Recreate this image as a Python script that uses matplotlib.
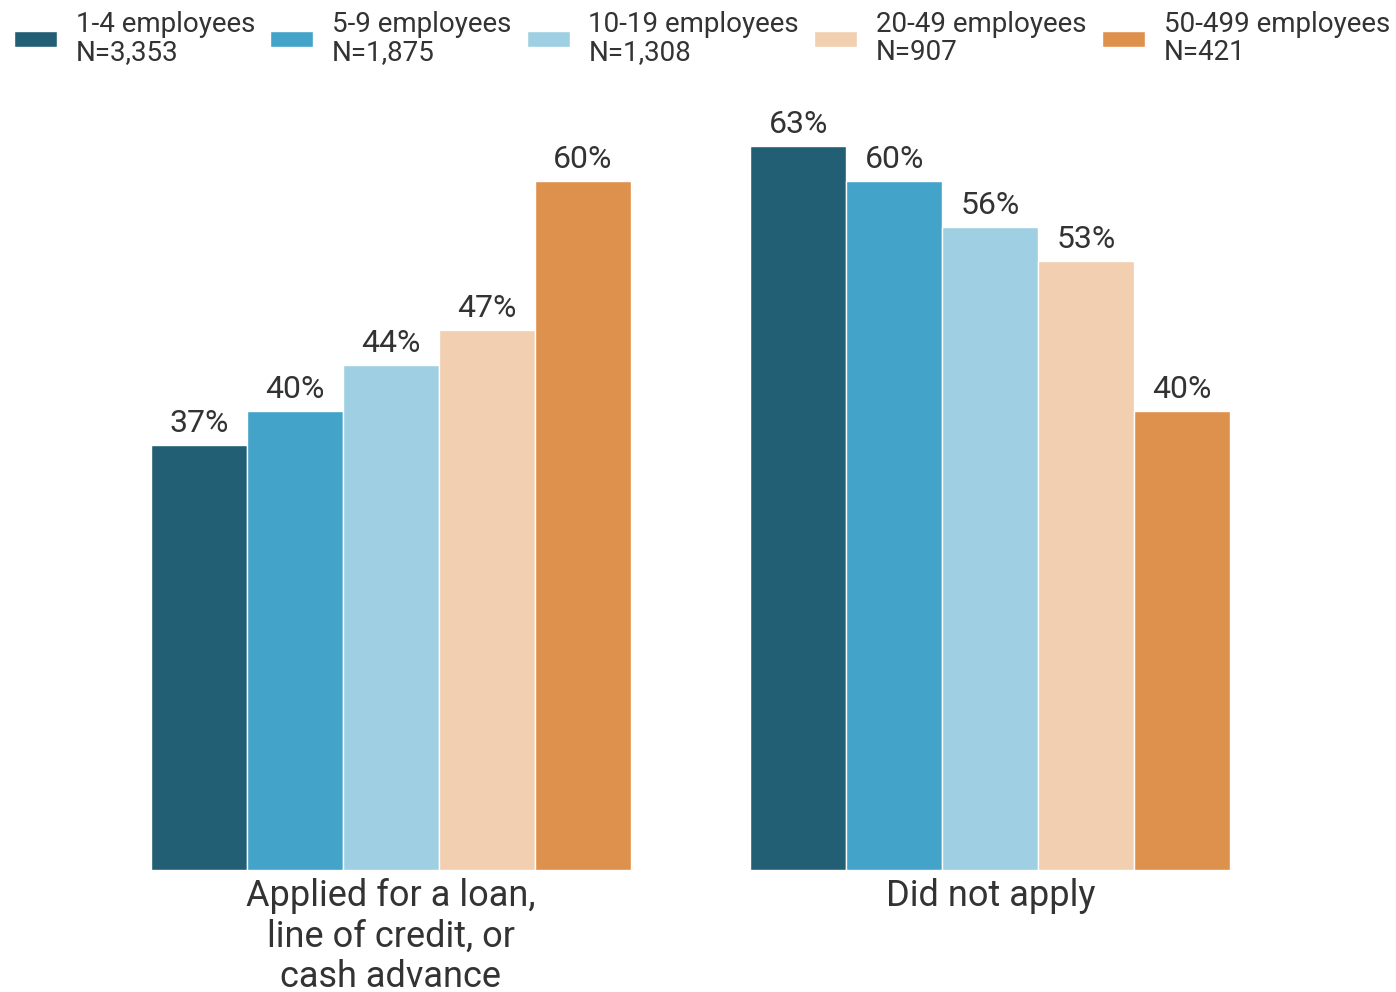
import matplotlib.pyplot as plt
import numpy as np

plt.rcParams['font.family'] = ['Roboto', 'DejaVu Sans']

groups = ['Applied for a loan,\nline of credit, or\ncash advance', 'Did not apply']
sizes = ['1-4 employees', '5-9 employees', '10-19 employees', '20-49 employees', '50-499 employees']
counts = ['N=3,353', 'N=1,875', 'N=1,308', 'N=907', 'N=421']
values = [[37, 63], [40, 60], [44, 56], [47, 53], [60, 40]]
colors = ['#225f75', '#43a3c8', '#9ecfe2', '#f1cfb0', '#de904d']

fig = plt.figure(figsize=(13.96, 9.92), dpi=100)
ax = fig.add_axes([91 / 1396, 122 / 992, 1199 / 1396, 804 / 992])

x = np.arange(len(groups))
w = 0.16
for i, (s, n) in enumerate(zip(sizes, counts)):
    pos = x + (i - 2) * w
    bars = ax.bar(pos, values[i], width=w, color=colors[i], edgecolor='white',
                  linewidth=1, label=s + '\n' + n)
    for b, v in zip(bars, values[i]):
        ax.annotate(f'{v}%', (b.get_x() + b.get_width() / 2, v), xytext=(0, 5),
                    textcoords='offset points', ha='center', va='bottom',
                    fontsize=23, color='#333333')

ax.set_xlim(-0.5, 1.5)
ax.set_ylim(0, 70)
ax.set_xticks(x)
ax.set_xticklabels(groups, fontsize=26, color='#333333', linespacing=1.15)
ax.tick_params(axis='x', length=0, pad=6)
ax.set_yticks([])
for sp in ax.spines.values():
    sp.set_visible(False)

fig.legend(loc='upper left', bbox_to_anchor=(0.002, 1.0), ncol=5, frameon=False,
           handlelength=1.55, handleheight=0.5, handletextpad=0.68,
           columnspacing=0.54, labelcolor='#333333', borderaxespad=0.0,
           labelspacing=0.2, prop={'size': 20})
for t in fig.legends[0].get_texts():
    t.set_linespacing(1.05)

plt.savefig('out.png', dpi=100)
